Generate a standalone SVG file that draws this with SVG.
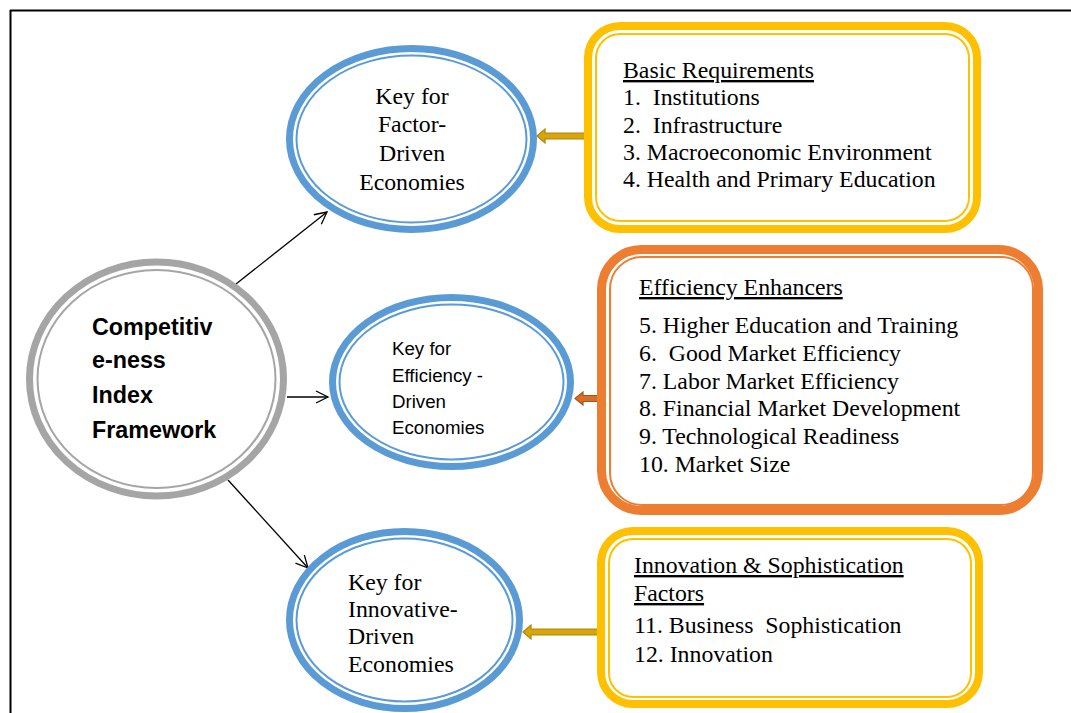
<svg xmlns="http://www.w3.org/2000/svg" width="1071" height="713" viewBox="0 0 1071 713">
  <style>
    .serif { font-family: "Liberation Serif", "Times New Roman", serif; font-size: 23.8px; fill: #000; }
    .sans { font-family: "Liberation Sans", Arial, sans-serif; font-size: 18.7px; fill: #000; }
    .bold { font-family: "Liberation Sans", Arial, sans-serif; font-size: 23.3px; font-weight: bold; fill: #000; }
    .u { text-decoration: underline; }
    .blueThick { fill: #fff; stroke: #5b9bd5; stroke-width: 7; }
    .blueThin { fill: none; stroke: #5b9bd5; stroke-width: 2; }
    .grayThick { fill: #fff; stroke: #a5a5a5; stroke-width: 7; }
    .grayThin { fill: none; stroke: #a5a5a5; stroke-width: 2; }
    .goldThick { fill: #fff; stroke: #ffc000; stroke-width: 8; }
    .goldThin { fill: none; stroke: #ffc000; stroke-width: 2; }
    .orangeThick { fill: #fff; stroke: #ed7d31; stroke-width: 9; }
    .orangeThin { fill: none; stroke: #ed7d31; stroke-width: 2; }
    .link { stroke: #000; stroke-width: 1.3; fill: none; }
    .goldArrow { fill: #d9a50c; stroke: #b08600; stroke-width: 1.2; }
    .orangeArrow { fill: #d66f27; stroke: #a9531a; stroke-width: 1.2; }
  </style>
  <defs>
    <marker id="openHead" markerUnits="userSpaceOnUse" markerWidth="16" markerHeight="16" refX="13" refY="7" orient="auto" viewBox="0 0 16 14">
      <path d="M1,1 L13,7 L1,13" fill="none" stroke="#000" stroke-width="1.3"/>
    </marker>
  </defs>

  <rect width="1071" height="713" fill="#fff"/>

  <!-- page frame -->
  <g id="frame">
    <line x1="10" y1="10.5" x2="1071" y2="10.5" stroke="#000" stroke-width="2"/>
    <line x1="10.5" y1="10" x2="10.5" y2="713" stroke="#000" stroke-width="2"/>
  </g>

  <!-- connectors -->
  <g id="connectors">
    <line class="link" x1="236" y1="284" x2="327" y2="212" marker-end="url(#openHead)"/>
    <line class="link" x1="287" y1="397" x2="328" y2="397" marker-end="url(#openHead)"/>
    <line class="link" x1="228" y1="480" x2="308" y2="568" marker-end="url(#openHead)"/>
    <polygon class="goldArrow" points="537,136 545,129 545,133 592,133 592,139 545,139 545,143"/>
    <polygon class="orangeArrow" points="575,398.5 583,392 583,395.5 616,395.5 616,401.5 583,401.5 583,405"/>
    <polygon class="goldArrow" points="523,632 531,625 531,629 605,629 605,635 531,635 531,639"/>
  </g>

  <!-- central node -->
  <g id="node-framework">
    <ellipse class="grayThick" cx="156.5" cy="379" rx="127" ry="117"/>
    <ellipse class="grayThin" cx="156.5" cy="379" rx="119" ry="109"/>
    <text class="bold" x="92" y="335">Competitiv</text>
    <text class="bold" x="92" y="368">e-ness</text>
    <text class="bold" x="92" y="403">Index</text>
    <text class="bold" x="92" y="438">Framework</text>
  </g>

  <!-- factor-driven node -->
  <g id="node-factor">
    <ellipse class="blueThick" cx="411.5" cy="139" rx="122" ry="90.5"/>
    <ellipse class="blueThin" cx="411.5" cy="139" rx="115" ry="83.5"/>
    <text class="serif" text-anchor="middle" x="412" y="104">Key for</text>
    <text class="serif" text-anchor="middle" x="412" y="132">Factor-</text>
    <text class="serif" text-anchor="middle" x="412" y="160.5">Driven</text>
    <text class="serif" text-anchor="middle" x="412" y="190">Economies</text>
  </g>

  <!-- efficiency-driven node -->
  <g id="node-efficiency">
    <ellipse class="blueThick" cx="451.5" cy="382" rx="119" ry="84.5"/>
    <ellipse class="blueThin" cx="451.5" cy="382" rx="112" ry="77.5"/>
    <text class="sans" x="392" y="355">Key for</text>
    <text class="sans" x="392" y="381.5">Efficiency -</text>
    <text class="sans" x="392" y="408">Driven</text>
    <text class="sans" x="392" y="433.5">Economies</text>
  </g>

  <!-- innovation-driven node -->
  <g id="node-innovative">
    <ellipse class="blueThick" cx="404.5" cy="620" rx="115" ry="88.5"/>
    <ellipse class="blueThin" cx="404.5" cy="620" rx="108" ry="81.5"/>
    <text class="serif" x="348" y="590">Key for</text>
    <text class="serif" x="348" y="617">Innovative-</text>
    <text class="serif" x="348" y="644">Driven</text>
    <text class="serif" x="348" y="672">Economies</text>
  </g>

  <!-- basic requirements box -->
  <g id="box-basic">
    <rect class="goldThick" x="588" y="26" width="389" height="203" rx="32"/>
    <rect class="goldThin" x="596" y="34" width="373" height="187" rx="24"/>
    <text class="serif u" x="623" y="78">Basic Requirements</text>
    <text class="serif" x="623" y="105" xml:space="preserve">1.  Institutions</text>
    <text class="serif" x="623" y="132.5" xml:space="preserve">2.  Infrastructure</text>
    <text class="serif" x="623" y="159.5">3. Macroeconomic Environment</text>
    <text class="serif" x="623" y="187">4. Health and Primary Education</text>
  </g>

  <!-- efficiency enhancers box -->
  <g id="box-efficiency">
    <rect class="orangeThick" x="601.5" y="249.5" width="437" height="261" rx="40"/>
    <rect class="orangeThin" x="610" y="257" width="423" height="248" rx="32"/>
    <text class="serif u" x="639" y="295">Efficiency Enhancers</text>
    <text class="serif" x="639" y="333">5. Higher Education and Training</text>
    <text class="serif" x="639" y="361" xml:space="preserve">6.  Good Market Efficiency</text>
    <text class="serif" x="639" y="388.5">7. Labor Market Efficiency</text>
    <text class="serif" x="639" y="416">8. Financial Market Development</text>
    <text class="serif" x="639" y="444">9. Technological Readiness</text>
    <text class="serif" x="639" y="471.5">10. Market Size</text>
  </g>

  <!-- innovation and sophistication box -->
  <g id="box-innovation">
    <rect class="goldThick" x="601" y="531" width="378" height="173" rx="32"/>
    <rect class="goldThin" x="609" y="539" width="362" height="158" rx="24"/>
    <text class="serif u" x="634" y="573">Innovation &amp; Sophistication</text>
    <text class="serif u" x="634" y="601">Factors</text>
    <text class="serif" x="634" y="633" xml:space="preserve">11. Business  Sophistication</text>
    <text class="serif" x="634" y="661.5">12. Innovation</text>
  </g>
</svg>
